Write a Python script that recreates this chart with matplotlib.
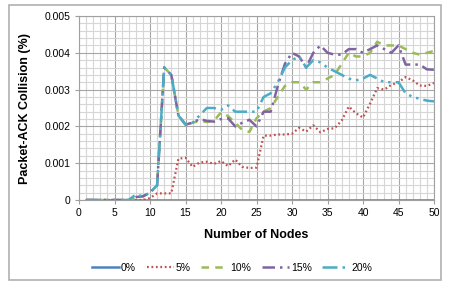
import numpy as np
import matplotlib
matplotlib.use('Agg')
import matplotlib.pyplot as plt
from matplotlib.ticker import MultipleLocator, FuncFormatter
from matplotlib.patches import Rectangle

plt.rcParams['font.family'] = ['Liberation Sans', 'DejaVu Sans']

nodes = list(range(1, 51))

p0 = [0.0] * 50

p5 = [0, 0, 0, 0, 0, 0, 0, 0, 0, 0.00005,
      0.00018, 0.00018, 0.00018, 0.00112, 0.00115, 0.0009, 0.00102, 0.00104, 0.00098, 0.00106,
      0.00092, 0.0011, 0.0009, 0.00087, 0.00088, 0.00175, 0.00175, 0.00178, 0.00178, 0.0018,
      0.00196, 0.00186, 0.00203, 0.00184, 0.00193, 0.00195, 0.00216, 0.00254, 0.00236, 0.00224,
      0.00262, 0.00304, 0.003, 0.00313, 0.0032, 0.00334, 0.00325, 0.00311, 0.0031, 0.00318]

p10 = [0, 0, 0, 0, 0, 0, 0, 0.00008, 0.0001, 0.0002,
       0.0004, 0.0036, 0.0034, 0.0023, 0.00205, 0.0021, 0.00215, 0.00212, 0.00215, 0.00238,
       0.00228, 0.0021, 0.0019, 0.00185, 0.00222, 0.0024, 0.0025, 0.0028, 0.0031, 0.0032,
       0.0032, 0.003, 0.0032, 0.0032, 0.0033, 0.0034, 0.0037, 0.004, 0.0039, 0.0039,
       0.004, 0.0043, 0.0042, 0.0042, 0.0042, 0.0041, 0.004, 0.00395, 0.004, 0.00405]

p15 = [0, 0, 0, 0, 0, 0, 0, 0.00008, 0.0001, 0.0002,
       0.0004, 0.0036, 0.0034, 0.0023, 0.00205, 0.0021, 0.0022, 0.00215, 0.00213, 0.0022,
       0.00222, 0.002, 0.0021, 0.00218, 0.002, 0.0024, 0.0024, 0.0031, 0.0037, 0.004,
       0.0039, 0.0036, 0.004, 0.0042, 0.004, 0.00395, 0.00395, 0.0041, 0.0041, 0.004,
       0.0041, 0.0042, 0.0041, 0.004, 0.0042, 0.00368, 0.00368, 0.00368, 0.00355, 0.00354]

p20 = [0, 0, 0, 0, 0, 0, 0, 0.00015, 0.0001, 0.0002,
       0.0004, 0.0036, 0.0034, 0.0023, 0.00205, 0.0021, 0.0023, 0.0025, 0.0025, 0.00245,
       0.00257, 0.0024, 0.0024, 0.0024, 0.0024, 0.0028, 0.0029, 0.0032, 0.0036, 0.0038,
       0.0039, 0.0036, 0.0038, 0.00374, 0.0036, 0.0035, 0.0034, 0.0033, 0.00325, 0.0033,
       0.0034, 0.0033, 0.0032, 0.0032, 0.0032, 0.0029, 0.0028, 0.00275, 0.0027, 0.00268]

labels = ['0%', '5%', '10%', '15%', '20%']
colors = ['#4F81BD', '#C0504D', '#9BBB59', '#8064A2', '#4BACC6']
styles = ['-', (0, (0.8, 1.2)), (0, (3, 2.5)), (0, (5, 2, 1, 2)), (0, (6, 2, 1, 2, 1, 2))]
widths = [1.8, 1.6, 1.8, 1.8, 1.8]

fig = plt.figure(figsize=(4.49, 2.82), dpi=100)
ax = fig.add_axes([79 / 449, 1 - 200 / 282, 355 / 449, 184 / 282])

for y, lab, c, ls, lw in zip([p0, p5, p10, p15, p20], labels, colors, styles, widths):
    ax.plot(nodes, y, color=c, linestyle=ls, linewidth=lw, label=lab)

ax.set_xlim(0, 50)
ax.set_ylim(0, 0.005)
ax.xaxis.set_major_locator(MultipleLocator(5))
ax.xaxis.set_minor_locator(MultipleLocator(1))
ax.yaxis.set_major_locator(MultipleLocator(0.001))
ax.yaxis.set_minor_locator(MultipleLocator(0.0002))
ax.yaxis.set_major_formatter(FuncFormatter(lambda v, p: '0' if v == 0 else '%.3f' % v))
ax.grid(which='major', color='#a6a6a6', linewidth=0.8)
ax.grid(which='minor', color='#d6d6d6', linewidth=0.8)
ax.set_axisbelow(True)
for s in ax.spines.values():
    s.set_color('#a0a0a0')
ax.tick_params(which='major', labelsize=7.5, length=3, color='#a0a0a0', pad=3)
ax.tick_params(which='minor', length=0)

ax.set_xlabel('Number of Nodes', fontsize=9, fontweight='bold', labelpad=8)
ax.set_ylabel('Packet-ACK Collision (%)', fontsize=9, fontweight='bold', labelpad=10)

fig.legend(loc='center', bbox_to_anchor=(232 / 449, 1 - 268 / 282), ncol=5, frameon=False,
           fontsize=7.5, handlelength=2.6, handletextpad=0.2, columnspacing=1.0)

fig.patches.append(Rectangle((9 / 449, 2 / 282), 432 / 449, 275 / 282, transform=fig.transFigure,
                             fill=False, edgecolor='#b0b0b0', linewidth=1.2))

fig.savefig('out.png', dpi=100)
